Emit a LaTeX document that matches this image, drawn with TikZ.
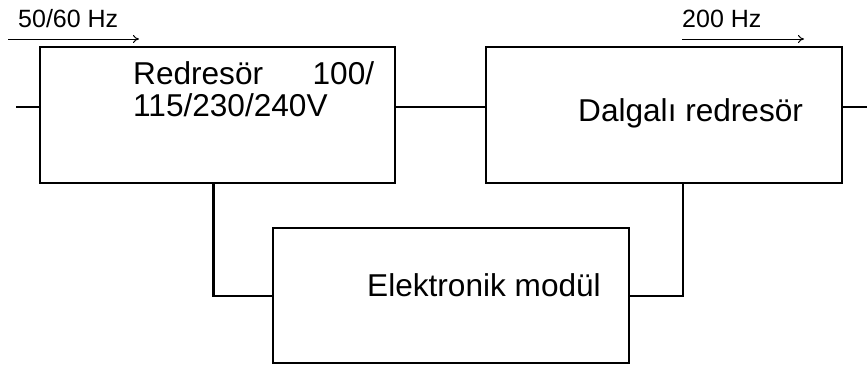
\documentclass[tikz,border=0pt]{standalone}
\usepackage{fontspec}
\setmainfont{Liberation Sans}
\usetikzlibrary{arrows.meta}
\tikzset{
  blk/.style={draw, line width=2.5pt, rectangle, inner sep=0pt},
  wire/.style={line width=2.5pt},
  big/.style={inner sep=0pt, anchor=base west, font=\fontsize{31.6}{33}\selectfont},
  small/.style={inner sep=0pt, anchor=base west, font=\fontsize{25}{27}\selectfont},
  freq/.style={line width=1pt, -{To[length=6pt,width=8pt]}}
}
\begin{document}
\begin{tikzpicture}[x=1pt,y=-1pt]
\useasboundingbox (0,0) rectangle (867,365);
% boxes
\node[blk, minimum width=355pt, minimum height=136pt] (b1) at (217.5,115) {};
\node[blk, minimum width=356pt, minimum height=136pt] (b2) at (664,115) {};
\node[blk, minimum width=356pt, minimum height=135pt] (b3) at (451,295.5) {};
% texts
\node[big] (t1a) at (133,84) {\makebox[241pt][s]{Redresör\hfill 100/}};
\node[big] (t1b) at (133,116.7) {115/230/240V};
\node[big] (t2) at (578,121) {Dalgalı redresör};
\node[big] (t3) at (367,296.5) {Elektronik modül};
\node[small] (f1) at (18,27) {50/60 Hz};
\node[small] (f2) at (682,27) {200 Hz};
% coordinates
\coordinate (in) at (16,107);
\coordinate (out) at (867,107);
\coordinate (x1) at (213.5,0);
\coordinate (x2) at (683,0);
\coordinate (lv) at (0,296);
\coordinate (a1s) at (8,39);
\coordinate (a1e) at (139,39);
\coordinate (a2s) at (682,39);
\coordinate (a2e) at (804,39);
% connectors
\draw[wire] (in) -- (in -| b1.west);
\draw[wire] (in -| b1.east) -- (in -| b2.west);
\draw[wire] (in -| b2.east) -- (out);
\draw[wire] (b1.south -| x1) |- (b3.west |- lv);
\draw[wire] (b2.south -| x2) |- (b3.east |- lv);
% frequency arrows
\draw[freq] (a1s) -- (a1e);
\draw[freq] (a2s) -- (a2e);
\end{tikzpicture}
\end{document}
